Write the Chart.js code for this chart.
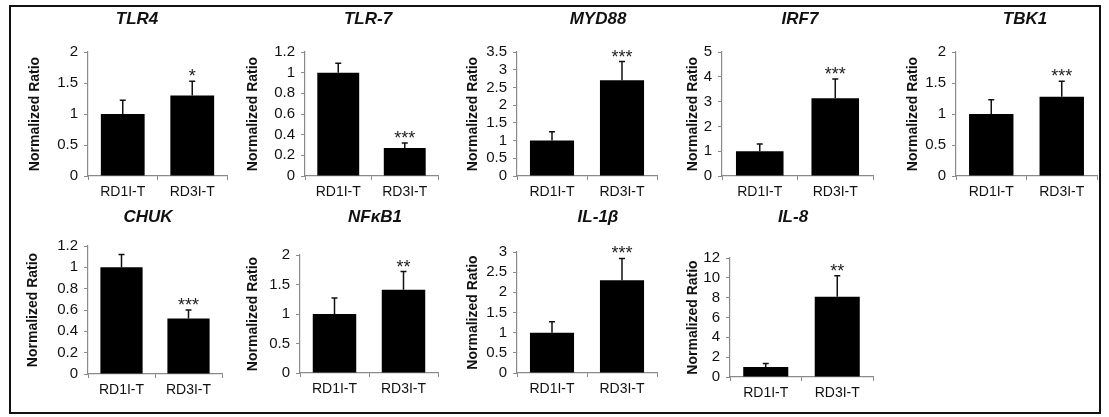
<!DOCTYPE html>
<html>
<head>
<meta charset="utf-8">
<script src="https://cdn.jsdelivr.net/npm/chart.js@4.4.1/dist/chart.umd.min.js"></script>
<style>
  html, body { margin: 0; padding: 0; background: #fff; overflow: hidden; }
  body { width: 1109px; height: 417px; position: relative; }
  #frame { position: absolute; left: 9px; top: 5px; width: 1088px; height: 405px; border: 2px solid #111; }
  canvas { position: absolute; }
</style>
</head>
<body>
<div id="frame"></div>

<script>
// data
const genes = ['TLR4', 'TLR-7', 'MYD88', 'IRF7', 'TBK1', 'CHUK', 'NFκB1', 'IL-1β', 'IL-8'];
const groups = ['RD1I-T', 'RD3I-T'];
const rd1Mean = [1, 1, 1, 1, 1, 1, 1, 1, 1];
const rd1Err = [0.22, 0.09, 0.25, 0.29, 0.23, 0.12, 0.27, 0.27, 0.35];
const rd3Mean = [1.3, 0.27, 2.7, 3.14, 1.28, 0.52, 1.41, 2.3, 8.1];
const rd3Err = [0.23, 0.05, 0.53, 0.77, 0.25, 0.08, 0.31, 0.54, 2.1];
const signif = ['*', '***', '***', '***', '***', '***', '**', '***', '**'];
const yMax = [2, 1.2, 3.5, 5, 2, 1.2, 2, 3, 12];
const yStep = [0.5, 0.2, 0.5, 1, 0.5, 0.2, 0.5, 0.5, 2];

// where each small chart sits on the page (px)
const axisLeft   = [88, 305, 517, 722, 956, 88, 300, 517, 730];
const axisRight  = [227, 438, 657, 873, 1097, 222, 438, 657, 873];
const plotTop    = [52, 52, 52, 52, 52, 246, 255, 252, 258];
const plotBottom = [176, 176, 176, 176, 176, 374, 373, 373, 377];
const titleX     = [137, 368, 598, 800, 1025, 148, 375, 598, 793];
const titleY     = [19, 19, 19, 19, 19, 217, 217, 217, 217];
const yTitleX    = [35, 253, 473, 693, 913, 33, 253, 473, 693];

const FONT = "'Liberation Sans', Arial, sans-serif";
const AXIS_GRAY = '#8a8a8a';

// gene name above each chart
const geneTitle = {
  id: 'geneTitle',
  afterDraw(chart, args, opts) {
    const ctx = chart.ctx;
    ctx.save();
    ctx.fillStyle = '#111';
    ctx.font = 'italic bold 17px ' + FONT;
    ctx.textAlign = 'center';
    ctx.textBaseline = 'middle';
    ctx.fillText(opts.text, opts.x, opts.y);
    ctx.restore();
  }
};

// error bars (upper half only) and significance stars
const errorBars = {
  id: 'errorBars',
  afterDatasetsDraw(chart) {
    const ctx = chart.ctx;
    const y = chart.scales.y;
    const ds = chart.data.datasets[0];
    const meta = chart.getDatasetMeta(0);
    ctx.save();
    ctx.strokeStyle = '#111';
    ctx.lineWidth = 1.5;
    meta.data.forEach((bar, i) => {
      const top = y.getPixelForValue(ds.data[i] + ds.errors[i]);
      ctx.beginPath();
      ctx.moveTo(bar.x, bar.y);
      ctx.lineTo(bar.x, top);
      ctx.moveTo(bar.x - 3, top);
      ctx.lineTo(bar.x + 3, top);
      ctx.stroke();
      if (ds.marks[i]) {
        ctx.fillStyle = '#222';
        ctx.font = '18px ' + FONT;
        ctx.textAlign = 'center';
        ctx.textBaseline = 'alphabetic';
        ctx.fillText(ds.marks[i], bar.x, top + 1);
      }
    });
    ctx.restore();
  }
};

genes.forEach((gene, k) => {
  const left = yTitleX[k] - 8;
  const top = titleY[k] - 12;
  const right = axisRight[k] + 6;
  const width = right - left;
  const height = plotBottom[k] + 30 - top;

  const cv = document.createElement('canvas');
  cv.width = width;
  cv.height = height;
  cv.style.left = left + 'px';
  cv.style.top = top + 'px';
  document.body.appendChild(cv);

  new Chart(cv, {
    type: 'bar',
    data: {
      labels: groups,
      datasets: [{
        data: [rd1Mean[k], rd3Mean[k]],
        errors: [rd1Err[k], rd3Err[k]],
        marks: ['', signif[k]],
        backgroundColor: '#000',
        borderWidth: 0,
        barPercentage: 0.63,
        categoryPercentage: 1
      }]
    },
    options: {
      responsive: false,
      animation: false,
      devicePixelRatio: 1,
      layout: { padding: { left: 0, top: plotTop[k] - top, bottom: 0, right: right - axisRight[k] } },
      plugins: {
        legend: { display: false },
        tooltip: { enabled: false },
        title: { display: false },
        geneTitle: { text: gene, x: titleX[k] - left, y: titleY[k] - top }
      },
      scales: {
        x: {
          afterFit: s => { s.height = 30; },
          border: { display: true, color: AXIS_GRAY, width: 1.2 },
          grid: { display: true, drawOnChartArea: false, drawTicks: true, tickLength: 4, color: AXIS_GRAY, offset: true },
          ticks: { color: '#111', padding: 4, font: { family: FONT, size: 14 } }
        },
        y: {
          min: 0,
          max: yMax[k],
          afterFit: s => { s.width = axisLeft[k] - left; },
          border: { display: true, color: AXIS_GRAY, width: 1.2 },
          grid: { display: true, drawOnChartArea: false, drawTicks: true, tickLength: 4, color: AXIS_GRAY },
          ticks: {
            stepSize: yStep[k],
            autoSkip: false,
            color: '#111',
            padding: 6,
            font: { family: FONT, size: 15 },
            callback: v => String(Math.round(v * 10) / 10)
          },
          title: {
            display: true,
            text: 'Normalized Ratio',
            color: '#111',
            font: { family: FONT, size: 14, weight: 'bold' },
            padding: { top: 0, bottom: 0 }
          }
        }
      }
    },
    plugins: [errorBars, geneTitle]
  });
});
</script>
</body>
</html>
